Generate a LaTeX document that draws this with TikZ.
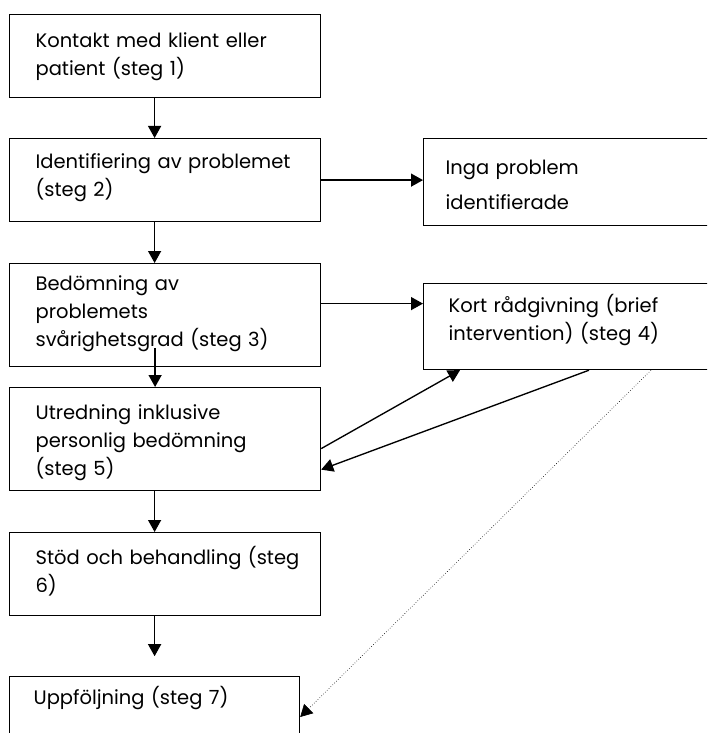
\documentclass[tikz,border=0pt]{standalone}
\usepackage{fontspec}
\setmainfont{Poppins}
\usepackage{tikz}
\usetikzlibrary{arrows.meta, positioning, calc}

\begin{document}
\begin{tikzpicture}[
  x=1pt, y=-1pt,
  stepbox/.style={draw, line width=1.2pt, anchor=north west, align=left,
    inner xsep=26pt, inner ysep=0pt, text width=259pt, text height=32pt,
    font=\fontsize{19.5}{28}\selectfont},
  sidebox/.style={stepbox, inner xsep=22pt, text width=276pt},
  arr/.style={-{Triangle[length=12pt, width=13pt]}, line width=1.35pt},
  dotarr/.style={-{Triangle[length=12pt, width=13pt]}, line width=0.6pt, dotted}
]
\useasboundingbox (0,0) rectangle (707,733);
\clip (0,0) rectangle (707,733);

\node[stepbox, text height=33pt, text depth=50pt] (b1) at (9,14) {Kontakt med klient eller\\patient (steg 1)};
\node[stepbox, text height=29.5pt, text depth=53.5pt] (b2) at (9,138) {Identifiering av problemet\\(steg 2)};
\node[sidebox, text height=36pt, text depth=51pt, font=\fontsize{19.5}{35}\selectfont] (inga) at (423,138) {Inga problem\\identifierade};
\node[stepbox, text height=26.5pt, text depth=76.5pt] (b3) at (9,263) {Bedömning av\\problemets\\svårighetsgrad (steg 3)};
\node[sidebox, inner xsep=25pt, text width=270pt, text height=29pt, text depth=57pt] (kort) at (423,283) {Kort rådgivning (brief\\intervention) (steg 4)};
\node[stepbox, text depth=71pt] (b5) at (9,387) {Utredning inklusive\\personlig bedömning\\(steg 5)};
\node[stepbox, text depth=51pt] (b6) at (9,532) {\mbox{Stöd och behandling (steg}\\6)};
\node[stepbox, inner xsep=24pt, text width=242pt, text height=28pt, text depth=70pt] (b7) at (9,676) {Uppföljning (steg 7)};
\coordinate (b7in) at ($(b6.south)+(-10.5,40)$);

\draw[arr] ([xshift=-10.5pt]b1.south) -- ([xshift=-10.5pt]b2.north);
\draw[arr] (b2.east) -- (b2.east -| inga.west);
\draw[arr] ([xshift=-10.5pt]b2.south) -- ([xshift=-10.5pt]b3.north);
\draw[arr] ([yshift=11.5pt]b3.east) -- ([yshift=11.5pt]b3.east -| kort.west);
\draw[arr] ([xshift=-10pt, yshift=19pt]b3.south) -- ([xshift=-10pt]b5.north);
\draw[arr] ([yshift=-9.5pt]b5.east) -- ([xshift=37pt]kort.south west);
\draw[arr] ([xshift=166pt]kort.south west) -- ([yshift=-30.5pt]b5.east);
\draw[dotarr] ([xshift=228pt]kort.south west) -- ([yshift=-41pt]b7.north east);
\draw[arr] ([xshift=-10.5pt]b5.south) -- ([xshift=-10.5pt]b6.north);
\draw[arr] ([xshift=-10.5pt]b6.south) -- (b7in);
\end{tikzpicture}
\end{document}
